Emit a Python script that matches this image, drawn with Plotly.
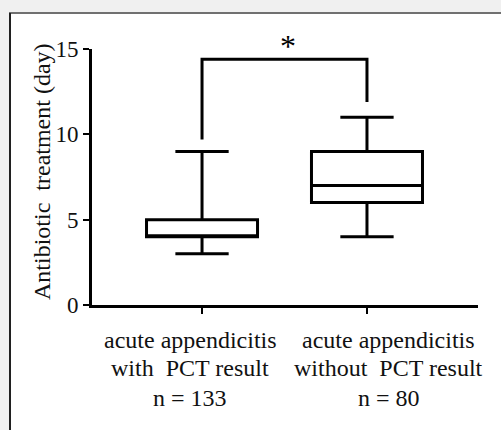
import plotly.graph_objects as go

# ---- data ----
categories = [0, 1]
category_label_lines = [
    ["acute appendicitis", "with\u00a0 PCT result", "n = 133"],
    ["acute appendicitis", "without\u00a0 PCT result", "n = 80"],
]
lower_whisker = [3, 4]
q1 = [4, 6]
median = [4, 7]
q3 = [5, 9]
upper_whisker = [9, 11]
bracket_x = [0, 0, 1, 1]
bracket_y = [9.7, 14.4, 14.4, 11.9]
sig_label = "*"
y_ticks = [0, 5, 10, 15]
y_title = "Antibiotic\u00a0 treatment (day)"

FONT = "Liberation Serif"

L, R, T, B = 92, 23, 49, 125
W, H = 501, 430
pw, ph = W - L - R, H - T - B

fig = go.Figure()
fig.add_trace(go.Box(
    x=categories, q1=q1, median=median, q3=q3,
    lowerfence=lower_whisker, upperfence=upper_whisker,
    width=0.673, whiskerwidth=0.48,
    line=dict(color="black", width=3), fillcolor="white",
    boxpoints=False, showlegend=False, hoverinfo="skip",
))
fig.add_trace(go.Scatter(
    x=bracket_x, y=bracket_y, mode="lines",
    line=dict(color="black", width=3), showlegend=False,
    hoverinfo="skip", cliponaxis=False,
))
fig.add_annotation(
    x=0.52, y=max(bracket_y), xref="x", yref="y", text=sig_label,
    showarrow=False, yanchor="bottom", yshift=-7,
    font=dict(family=FONT, size=32, color="black"),
)

# category labels (one annotation per line, slightly offset like the original)
label_xshift = [-12, 22]
line_centers_px = [340, 368, 398]
for cat, lines, dx in zip(categories, category_label_lines, label_xshift):
    for txt, cy in zip(lines, line_centers_px):
        fig.add_annotation(
            x=cat, y=(H - B - cy) / ph, xref="x", yref="paper", text=txt,
            xshift=dx, showarrow=False, xanchor="center", yanchor="middle",
            font=dict(family=FONT, size=24, color="#111"),
        )

# y title
fig.add_annotation(
    x=(42 - L) / pw, y=(H - B - 172) / ph, xref="paper", yref="paper", text=y_title,
    textangle=-90, showarrow=False, xanchor="center", yanchor="middle",
    font=dict(family=FONT, size=24, color="#111"),
)

# panel background and border
fig.add_shape(type="rect", xref="paper", yref="paper", layer="below",
              x0=(10 - L) / pw, x1=(520 - L) / pw,
              y0=(H - B - 450) / ph, y1=(H - B - 13) / ph,
              fillcolor="white", line=dict(width=0))
fig.add_shape(type="line", xref="paper", yref="paper", layer="below",
              x0=(9 - L) / pw, x1=(520 - L) / pw,
              y0=(H - B - 13) / ph, y1=(H - B - 13) / ph,
              line=dict(color="#707070", width=2))
fig.add_shape(type="line", xref="paper", yref="paper", layer="below",
              x0=(10 - L) / pw, x1=(10 - L) / pw,
              y0=(H - B - 450) / ph, y1=(H - B - 13) / ph,
              line=dict(color="#202020", width=2))

fig.update_layout(
    width=W, height=H,
    margin=dict(l=L, r=R, t=T, b=B, pad=0),
    paper_bgcolor="#f0f0f0", plot_bgcolor="rgba(0,0,0,0)",
    font=dict(family=FONT, size=22, color="#111"),
)
fig.update_xaxes(
    range=[-0.667, 1.673], tickvals=categories, showticklabels=False,
    automargin=False,
    showgrid=False, zeroline=False, showline=True, linecolor="black", linewidth=3,
    ticks="outside", ticklen=6, tickwidth=2, tickcolor="black",
)
fig.update_yaxes(
    range=[0, 15], tickvals=y_ticks, automargin=False,
    showgrid=False, zeroline=False, showline=True, linecolor="black", linewidth=3,
    ticks="outside", ticklen=6, tickwidth=2, tickcolor="black",
    tickfont=dict(family=FONT, size=23, color="#111"),
)

fig.write_html(
    "out.html",
    config={"displayModeBar": False},
    post_script="document.body.style.margin='0';document.body.style.overflow='hidden';",
)
